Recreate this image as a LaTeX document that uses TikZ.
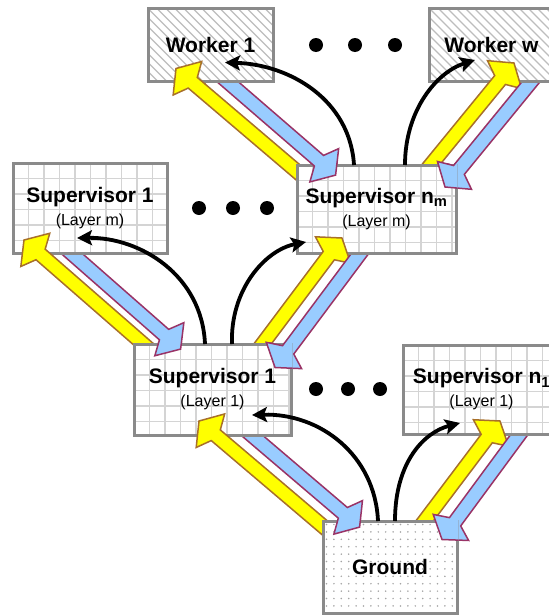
\documentclass[tikz,border=0pt]{standalone}
\usepackage{fontspec}
\setmainfont{Liberation Sans}
\usetikzlibrary{calc,arrows.meta}
\pgfdeclarelayer{background}
\pgfdeclarelayer{foreground}
\pgfsetlayers{background,main,foreground}
\definecolor{boxgray}{HTML}{8A8A8A}
\definecolor{gridgray}{HTML}{D4D4D4}
\definecolor{hatchgray}{HTML}{BDBDBD}
\definecolor{dotgray}{HTML}{A4A4A4}
\definecolor{yelfill}{HTML}{FFFF00}
\definecolor{yelline}{HTML}{A8702A}
\definecolor{bluefill}{HTML}{99CCFF}
\definecolor{blueline}{HTML}{993366}

\newcommand\blockarr[3]{%
  \coordinate (ba-s) at #2;
  \coordinate (ba-t) at #3;
  \coordinate (ba-j) at ($(ba-t)!22pt!(ba-s)$);
  \coordinate (ba-b) at ($(ba-t)!15pt!(ba-s)$);
  \draw[#1] ($(ba-s)!7pt!90:(ba-t)$) -- ($(ba-j)!7pt!90:(ba-t)$) -- ($(ba-b)!22pt!90:(ba-t)$) -- (ba-t)
     -- ($(ba-b)!22pt!-90:(ba-t)$) -- ($(ba-j)!7pt!-90:(ba-t)$) -- ($(ba-s)!7pt!-90:(ba-t)$) -- cycle;}
\newcommand\flowarr[4]{%
  \begin{pgfonlayer}{background}\blockarr{#1}{#2}{#3}\end{pgfonlayer}
  \begin{pgfonlayer}{foreground}\begin{scope}
    \clip ($(#4.south west)+(-1.5,1.5)$) rectangle ($(#4.north east)+(1.5,-1.5)$);
    \blockarr{#1}{#2}{#3}\end{scope}\end{pgfonlayer}}

\tikzset{
  yelarr/.style={fill=yelfill, draw=yelline, line width=1.5pt, line join=miter},
  bluarr/.style={fill=bluefill, draw=blueline, line width=1.5pt, line join=miter},
  blk/.style={line width=3.8pt, -{Stealth[length=15pt,width=15pt,inset=3pt]}},
  basebox/.style={draw=boxgray, line width=3pt, fill=white, inner sep=0pt, outer sep=0pt,
     align=center, font=\fontsize{21}{24}\selectfont\bfseries},
  gridln/.style={draw=gridgray, line width=1.2pt},
  hatchln/.style={draw=hatchgray, line width=1.4pt},
  sbox/.style={basebox, path picture={
     \foreach \k in {1,...,11}{
       \draw[gridln] ($(path picture bounding box.north west)+(\k*15.5,0)$) -- ++(0,120);
       \draw[gridln] ($(path picture bounding box.north west)+(0,\k*15.5)$) -- ++(200,0);}}},
  wbox/.style={basebox, minimum width=125pt, minimum height=73pt, path picture={
     \foreach \k in {-10,...,16}{
       \draw[hatchln] ($(path picture bounding box.north west)+(\k*9,0)$) -- ++(100,100);}}},
  gbox/.style={basebox, path picture={
     \foreach \i in {0,...,18}{\foreach \j in {0,...,12}{
       \fill[dotgray] ($(path picture bounding box.north west)+(3.5+\i*7.4,3.5+\j*7.4)$) circle (0.85);}}}},
  bigdot/.style={circle, fill=black, minimum size=14pt, inner sep=0pt}
}
\newcommand\layertext[1]{\\[-1pt]{\fontsize{16}{19}\selectfont\mdseries #1}}

\begin{document}
\begin{tikzpicture}[x=1pt,y=-1pt]
\useasboundingbox (0,0) rectangle (549,616);

\node[wbox] (w1) at (210.5,45) {Worker 1};
\node[wbox] (ww) at (491.5,44.5) {Worker w};
\node[sbox, minimum width=154pt, minimum height=90pt] (sm1) at (90,208) {Supervisor 1\layertext{(Layer m)}};
\node[sbox, minimum width=159pt, minimum height=88pt] (smn) at (376.5,209) {Supervisor n\textsubscript{m}\layertext{(Layer m)}};
\node[sbox, minimum width=157pt, minimum height=91pt] (s11) at (212.5,389.5) {Supervisor 1\layertext{(Layer 1)}};
\node[sbox, minimum width=157pt, minimum height=89pt] (s1n) at (481.5,389.5) {Supervisor n\textsubscript{1}\layertext{(Layer 1)}};
\node[gbox, minimum width=134pt, minimum height=92pt] (g) at (390,567) {Ground};

\node[bigdot] (d1) at (316,45) {};
\node[bigdot] (d2) at (355,45) {};
\node[bigdot] (d3) at (395,45) {};
\node[bigdot] (d4) at (199,208) {};
\node[bigdot] (d5) at (233,208) {};
\node[bigdot] (d6) at (267,208) {};
\node[bigdot] (d7) at (316,389) {};
\node[bigdot] (d8) at (348,389) {};
\node[bigdot] (d9) at (380,389) {};

% Ground <-> Supervisor 1 (Layer 1)
\flowarr{yelarr}{($(g.north west)+(22,24)$)}{($(s11.south west)+(65,-14)$)}{s11}
\flowarr{bluarr}{($(s11.south west)+(103.6,-11.9)$)}{($(g.north west)+(36.6,6.1)$)}{g}
% Ground <-> Supervisor n1
\flowarr{yelarr}{($(g.north west)+(91,14)$)}{($(s1n.south west)+(97,-13)$)}{s1n}
\flowarr{bluarr}{($(s1n.south west)+(123,-8.5)$)}{($(g.north west)+(119,18.5)$)}{g}
% Supervisor 1 (L1) <-> Supervisor 1 (Lm)
\flowarr{yelarr}{($(s11.north west)+(23,12)$)}{($(sm1.south west)+(11,-13)$)}{sm1}
\flowarr{bluarr}{($(sm1.south west)+(44.6,-11.9)$)}{($(s11.north west)+(46.6,5.1)$)}{s11}
% Supervisor 1 (L1) <-> Supervisor nm
\flowarr{yelarr}{($(s11.north west)+(121,10)$)}{($(smn.south west)+(45,-15)$)}{smn}
\flowarr{bluarr}{($(smn.south west)+(69,-7.5)$)}{($(s11.north west)+(141,23.5)$)}{s11}
% Supervisor nm <-> Worker 1
\flowarr{yelarr}{($(smn.north west)+(10,15)$)}{($(w1.south west)+(28,-13)$)}{w1}
\flowarr{bluarr}{($(w1.south west)+(65.6,-11.9)$)}{($(smn.north west)+(38.6,10.1)$)}{smn}
% Supervisor nm <-> Worker w
\flowarr{yelarr}{($(smn.north west)+(124.6,11)$)}{($(ww.south west)+(85,-18)$)}{ww}
\flowarr{bluarr}{($(ww.south west)+(110,-9)$)}{($(smn.north west)+(148,22)$)}{smn}

\begin{pgfonlayer}{foreground}
\draw[blk] ($(g.north west)+(55,0)$) .. controls +(-3,-66) and +(68,-2) .. ($(s11.south west)+(118,-20)$);
\draw[blk] ($(g.north west)+(72,0)$) .. controls +(0,-60) and +(-35,9) .. ($(s1n.south west)+(57,-11)$);
\draw[blk] ($(s11.north west)+(71,0)$) .. controls +(-3,-69) and +(63,-1) .. ($(sm1.south west)+(64,-15)$);
\draw[blk] ($(s11.north west)+(98,0)$) .. controls +(-2,-54) and +(-41,8) .. ($(smn.south west)+(9,-11)$);
\draw[blk] ($(smn.north west)+(57,0)$) .. controls +(-4,-65) and +(65,2) .. ($(w1.south west)+(77,-19)$);
\draw[blk] ($(smn.north west)+(108,0)$) .. controls +(0,-55) and +(-38,12) .. ($(ww.south west)+(46,-21)$);
\end{pgfonlayer}
\end{tikzpicture}
\end{document}
